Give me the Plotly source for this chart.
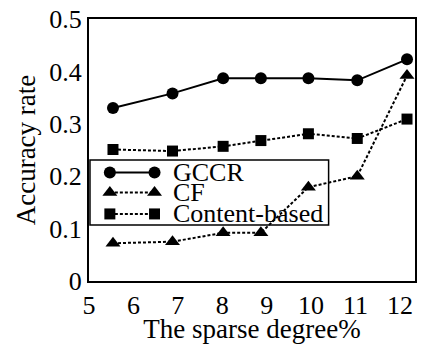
import plotly.graph_objects as go

# Sparse degree (%) of each test setting
sparse_degree = [5.54, 6.88, 8.02, 8.87, 9.94, 11.04, 12.16]

# Accuracy rate per method
gccr = [0.330, 0.358, 0.387, 0.387, 0.387, 0.383, 0.423]
cf = [0.072, 0.075, 0.092, 0.092, 0.179, 0.200, 0.392]
content_based = [0.251, 0.248, 0.257, 0.268, 0.281, 0.272, 0.309]

x_ticks = [5, 6, 7, 8, 9, 10, 11, 12]
y_ticks = [0, 0.1, 0.2, 0.3, 0.4, 0.5]
y_tick_text = ["0", "0.1", "0.2", "0.3", "0.4", "0.5"]

series = [
    ("GCCR", gccr, "circle", 12, "solid"),
    ("CF", cf, "triangle-up", 13, "3px,2px"),
    ("Content-based", content_based, "square", 11, "3px,2px"),
]

FONT = "Times New Roman, Times, Liberation Serif, DejaVu Serif, serif"

fig = go.Figure()

for name, values, symbol, size, dash in series:
    fig.add_trace(go.Scatter(
        x=sparse_degree, y=values, name=name, mode="lines+markers",
        line=dict(color="black", width=2, dash=dash),
        marker=dict(symbol=symbol, size=size, color="black"),
        showlegend=False,
    ))

# Legend drawn inside the plot area on an overlay axis (fractions of the plot box),
# with a marker at both ends of each sample line.
legend_rows = [0.414, 0.338, 0.256]
sample_x = [0.064, 0.201]
for (name, values, symbol, size, dash), row in zip(series, legend_rows):
    fig.add_trace(go.Scatter(
        x=sample_x, y=[row, row], mode="lines+markers",
        line=dict(color="black", width=2, dash=dash),
        marker=dict(symbol=symbol, size=size, color="black"),
        xaxis="x2", yaxis="y2", showlegend=False, hoverinfo="skip",
    ))
    fig.add_annotation(
        x=0.252, y=row, xref="x2", yref="y2", text=name, showarrow=False,
        xanchor="left", yanchor="middle",
        font=dict(family=FONT, size=26, color="black"),
    )

fig.add_shape(
    type="rect", xref="x domain", yref="y domain",
    x0=0.003, x1=0.735, y0=0.214, y1=0.462,
    line=dict(color="black", width=1.5), fillcolor="rgba(0,0,0,0)",
)

fig.update_layout(
    width=422, height=344,
    margin=dict(l=89, r=5, t=17, b=61),
    paper_bgcolor="white", plot_bgcolor="white",
    font=dict(family=FONT, size=26, color="black"),
    xaxis=dict(
        range=[5, 12.34], tickvals=x_ticks, ticks="", showgrid=False,
        zeroline=False, showline=True, linecolor="black", linewidth=2, mirror=True,
        tickfont=dict(family=FONT, size=26), ticklen=0,
        title=dict(text="The sparse degree%", font=dict(family=FONT, size=27), standoff=0),
    ),
    yaxis=dict(
        range=[0, 0.5], tickvals=y_ticks, ticktext=y_tick_text, ticks="",
        showgrid=False, zeroline=False, showline=True, linecolor="black",
        linewidth=2, mirror=True, tickfont=dict(family=FONT, size=26),
        title=dict(text="Accuracy rate", font=dict(family=FONT, size=27), standoff=6),
    ),
    xaxis2=dict(overlaying="x", range=[0, 1], visible=False, fixedrange=True),
    yaxis2=dict(overlaying="y", range=[0, 1], visible=False, fixedrange=True),
)

fig.write_html("out.html")
